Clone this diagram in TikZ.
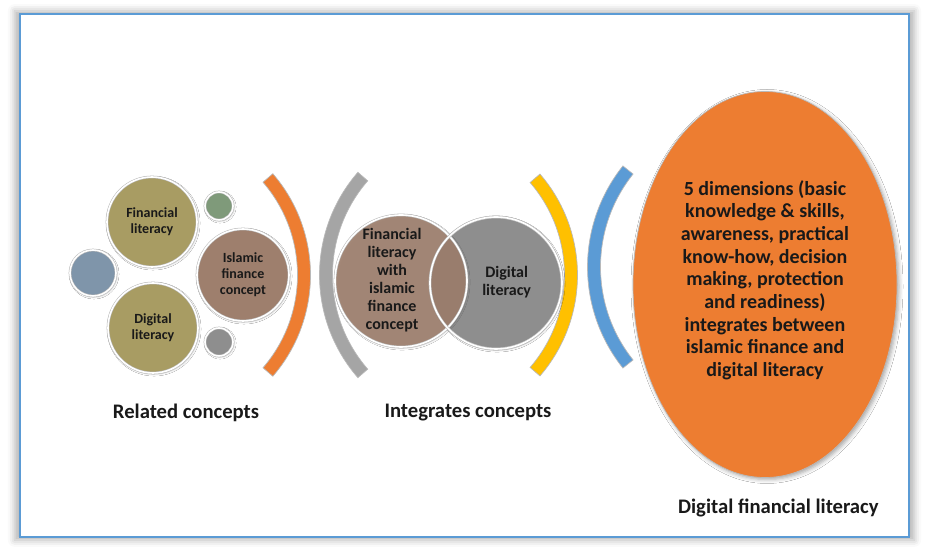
\documentclass[tikz,border=0pt]{standalone}
\usepackage{fontspec}
\setmainfont{Carlito}
\usetikzlibrary{shapes.geometric, positioning, shadows.blur}

\definecolor{frameblue}{HTML}{5B9BD5}
\definecolor{olivefill}{HTML}{A89C63}
\definecolor{brownfill}{HTML}{9E7F6D}
\definecolor{slatefill}{HTML}{7F95AA}
\definecolor{sagefill}{HTML}{7F9A7A}
\definecolor{greyfill}{HTML}{8E8E8E}
\definecolor{accorange}{HTML}{ED7D31}
\definecolor{accgrey}{HTML}{A5A5A5}
\definecolor{accyellow}{HTML}{FFC000}
\definecolor{accblue}{HTML}{5B9BD5}

\begin{document}
\begin{tikzpicture}[
    x=0.75pt, y=0.75pt,
    ring/.style={circle, draw=gray!55, line width=0.4pt, double=white, double distance=1.2pt, inner sep=0pt, text=black!90, blur shadow={shadow xshift=0.8pt, shadow yshift=-0.8pt, shadow blur radius=1.5pt, shadow opacity=25}},
    bubble/.style={ring, align=center, font=\bfseries\fontsize{10.5}{12}\selectfont},
    bigbubble/.style={ring, minimum size=99pt, font=\bfseries\fontsize{12}{13.4}\selectfont},
    bracket/.style={draw=gray!55, line width=0.5pt},
    caption/.style={font=\bfseries\fontsize{15.5}{18}\selectfont, text=black!90}
]
\useasboundingbox (0,0) rectangle (928,552);

% Frame
\draw[frameblue, line width=0.8pt, fill=white, blur shadow={shadow xshift=0pt, shadow yshift=0pt, shadow scale=1.012, shadow blur radius=5pt, shadow opacity=30}] (20,15) rectangle (909,538);

% Related concepts
\node (fin) [bubble, fill=olivefill, minimum size=67.5pt] at (152,330) {Financial\\literacy};
\node (dig) [bubble, fill=olivefill, minimum size=67.5pt] at (153,224) {Digital\\literacy};
\node (isl) [bubble, fill=brownfill, minimum size=69pt] at (243,277) {Islamic\\finance\\concept};
\node (dotb) [bubble, fill=slatefill, minimum size=34.5pt] at (93,279) {};
\node (dotg) [bubble, fill=sagefill, minimum size=21pt] at (219,346) {};
\node (dotk) [bubble, fill=greyfill, minimum size=21pt] at (219,210) {};

% Brackets
\draw[bracket, fill=accorange] (155.5,277) ++(-40.8:155) arc[start angle=-40.8, end angle=40.8, radius=155] -- ++(220.8:13) arc[start angle=40.8, end angle=-40.8, radius=142] -- cycle;
\draw[bracket, fill=accgrey] (476,277) ++(139:156.5) arc[start angle=139, end angle=221, radius=156.5] -- ++(41:13) arc[start angle=221, end angle=139, radius=143.5] -- cycle;
\draw[bracket, fill=accyellow] (423,277) ++(-40.8:154.5) arc[start angle=-40.8, end angle=40.8, radius=154.5] -- ++(220.8:13) arc[start angle=40.8, end angle=-40.8, radius=141.5] -- cycle;
\draw[bracket, fill=accblue] (749.5,285) ++(141.4:162) arc[start angle=141.4, end angle=218.6, radius=162] -- ++(38.6:13) arc[start angle=218.6, end angle=141.4, radius=149] -- cycle;

% Integrates concepts
\node (dlit) [bigbubble, fill=greyfill] at (496,269) {\hspace*{16pt}\begin{tabular}{@{}c@{}}Digital\\literacy\end{tabular}};
\node (filit) [bigbubble, fill=brownfill, fill opacity=0.9, text opacity=1] at (401,271) {\begin{tabular}{@{}c@{}}Financial\\literacy\\with\\islamic\\finance\\concept\end{tabular}\hspace*{13.5pt}};
\draw[draw=gray!55, line width=0.4pt, double=white, double distance=1.2pt] (dlit.center) circle[radius=49.5pt];

% Digital financial literacy
\node (dfl) [ellipse, draw=gray!55, line width=0.5pt, fill=accorange, minimum width=198pt, minimum height=289.5pt, inner sep=0pt, align=center, text=black!90, font=\bfseries\fontsize{15}{17}\selectfont, blur shadow={shadow xshift=1.5pt, shadow yshift=-1.5pt, shadow blur radius=3pt, shadow opacity=35}] at (765,267.5) {5 dimensions (basic\\knowledge \& skills,\\awareness, practical\\know-how, decision\\making, protection\\and readiness)\\integrates between\\islamic finance and\\digital literacy\\[-8pt]};

% Captions
\node (relc) [caption] at (186,139) {Related concepts};
\node (intc) [caption] at (468,139) {Integrates concepts};
\node (dflc) [caption, below=12pt of dfl.south, xshift=10pt] {Digital financial literacy};

\end{tikzpicture}
\end{document}
